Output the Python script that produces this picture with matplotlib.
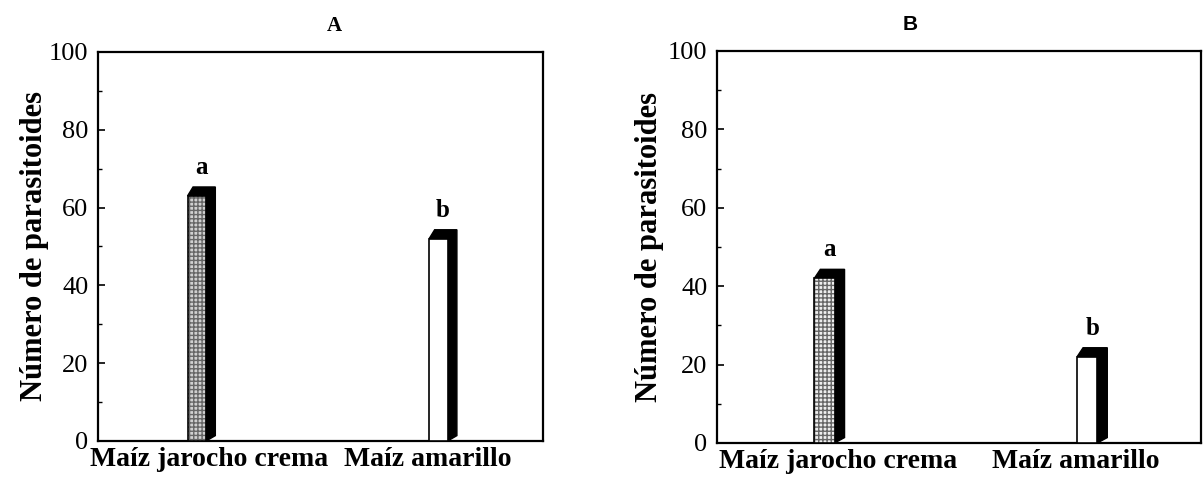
import matplotlib.pyplot as plt
from matplotlib.patches import Polygon

# data
categories = ['Maíz jarocho crema', 'Maíz amarillo']
values_a = [63, 52]
values_b = [42, 22]
letters = ['a', 'b']
panel_titles = ['A', 'B']

serif = 'Liberation Serif'
plt.rcParams['font.family'] = serif

fig = plt.figure(figsize=(12.03, 4.8), dpi=100)
ax_a = fig.add_axes([0.0815, 0.0813, 0.3699, 0.8104])
ax_b = fig.add_axes([0.596, 0.0771, 0.4023, 0.8167])

xpos = [0, 1]
label_pos = [0.05, 0.955]
width = 0.077
dx, dy = 0.038, 2.3


def draw_panel(ax, vals, title, title_font, title_x, fill_color):
    for i, (x, v) in enumerate(zip(xpos, vals)):
        xl, xr = x - width / 2, x + width / 2
        # black 3d shading (top + right side)
        side = Polygon([(xl, v), (xl + dx * 0.6, v + dy), (xr + dx, v + dy),
                        (xr + dx, dy * 0.6), (xr, 0), (xr, v)],
                       closed=True, facecolor='black', edgecolor='black', lw=1, zorder=2)
        ax.add_patch(side)
        if i == 0:
            ax.bar(x, v, width=width, facecolor=fill_color, edgecolor='#666666',
                   hatch='++++', linewidth=0, zorder=3)
            ax.bar(x, v, width=width, fill=False, edgecolor='black', linewidth=1.2, zorder=4)
        else:
            ax.bar(x, v, width=width, facecolor='white', edgecolor='black',
                   linewidth=1.2, zorder=3)
        ax.text(x + dx / 2, v + dy + 2.0, letters[i], ha='center', va='bottom',
                fontsize=18, fontweight='bold', family=serif)

    ax.set_xlim(-0.409, 1.433)
    ax.set_ylim(0, 100)
    ax.set_yticks(range(0, 101, 20))
    ax.set_yticks(range(10, 100, 20), minor=True)
    ax.tick_params(axis='y', which='major', direction='in', length=5, width=1.2,
                   labelsize=19, pad=7)
    ax.tick_params(axis='y', which='minor', direction='in', length=3, width=1)
    ax.set_xticks(label_pos)
    ax.set_xticklabels(categories, fontsize=20, fontweight='bold')
    ax.tick_params(axis='x', length=0, pad=4)
    for s in ax.spines.values():
        s.set_linewidth(1.6)
    ax.set_ylabel('Número de parasitoides', fontsize=22, fontweight='bold')
    ax.yaxis.set_label_coords(-0.11, 0.5)
    ax.set_title(title, fontsize=15, fontweight='bold', family=title_font,
                 x=title_x, pad=15)


draw_panel(ax_a, values_a, panel_titles[0], serif, 0.53, '#d0d0d0')
draw_panel(ax_b, values_b, panel_titles[1], 'Liberation Sans', 0.40, '#eeeeee')

fig.savefig('out.png', dpi=100)
